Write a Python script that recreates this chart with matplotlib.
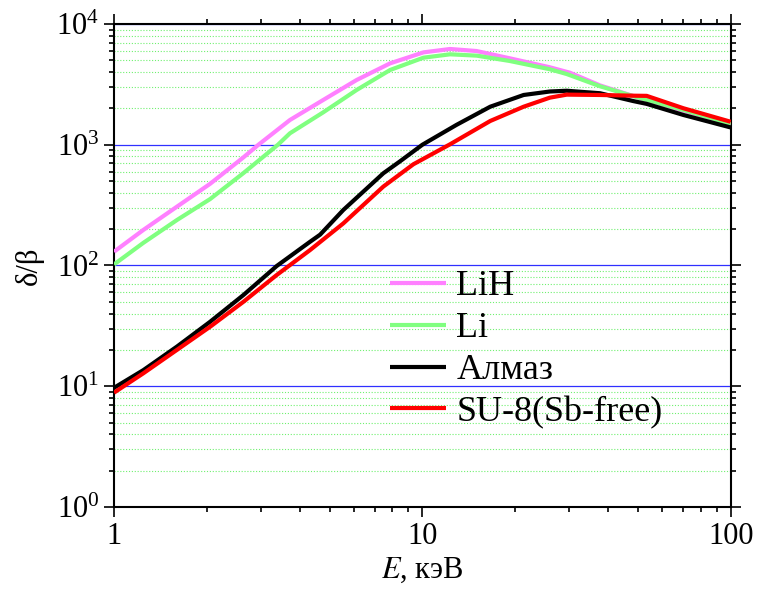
import matplotlib
matplotlib.use("Agg")
import matplotlib.pyplot as plt
from matplotlib.ticker import LogLocator, NullFormatter, FixedLocator, FixedFormatter

plt.rcParams['font.family'] = ['Liberation Serif', 'DejaVu Serif']
plt.rcParams['mathtext.fontset'] = 'stix'

# Photon energy, keV, and delta/beta for each material
e_lih = [1, 1.245, 1.6, 2.05, 2.63, 2.94, 3.72, 4.77, 6.12, 7.86, 10.08, 12.3, 15.0, 19.2, 25.9, 30.1, 37.7, 47.2, 68.5, 100]
db_lih = [130, 197, 307, 475, 787, 1000, 1603, 2349, 3437, 4722, 5820, 6210, 5970, 5200, 4380, 3950, 3100, 2580, 1940, 1480]

e_li = [1, 1.245, 1.6, 2.05, 2.63, 3.40, 3.72, 4.77, 6.12, 7.86, 10.08, 12.3, 15.0, 19.2, 25.9, 29.4, 37.7, 48.3, 70.3, 100]
db_li = [102, 154, 238, 355, 583, 1000, 1244, 1855, 2840, 4160, 5260, 5610, 5470, 4940, 4220, 3850, 3050, 2525, 1940, 1486]

e_diamond = [1, 1.245, 1.6, 2.05, 2.63, 3.37, 4.32, 4.66, 5.54, 7.47, 8.47, 10.0, 12.9, 16.6, 21.3, 25.9, 29.4, 37.7, 48.3, 53.4, 70.3, 100]
db_diamond = [9.7, 13.6, 21.3, 34.2, 57, 99, 157, 180, 288, 580, 730, 1000, 1460, 2065, 2583, 2760, 2800, 2670, 2300, 2180, 1763, 1390]

e_su8 = [1, 1.245, 1.6, 2.05, 2.63, 3.37, 4.32, 5.54, 7.47, 9.35, 12.3, 16.6, 21.3, 25.9, 29.4, 37.7, 48.3, 53.4, 70.3, 100]
db_su8 = [8.85, 12.8, 20.0, 31.1, 50.1, 83.4, 134, 223, 450, 689, 1009, 1573, 2065, 2454, 2600, 2583, 2548, 2540, 2004, 1550]

labels = ["LiH", "Li", "Алмаз", "SU-8(Sb-free)"]
colors = ["#ff80ff", "#80ff80", "#000000", "#ff0000"]

fig = plt.figure(figsize=(7.58, 5.94), dpi=100)
ax = fig.add_axes([0.1504, 0.1465, 0.8136, 0.8131])

series = [(e_lih, db_lih), (e_li, db_li), (e_diamond, db_diamond), (e_su8, db_su8)]
for (e, d), lab, c in zip(series, labels, colors):
    ax.plot(e, d, color=c, lw=3.0, label=lab, solid_joinstyle='round',
            solid_capstyle='butt', zorder=3)

ax.set_xscale('log')
ax.set_yscale('log')
ax.set_xlim(1, 100)
ax.set_ylim(1, 1e4)

ax.yaxis.set_major_locator(LogLocator(base=10, numticks=10))
ax.yaxis.set_minor_locator(LogLocator(base=10, subs=range(2, 10), numticks=20))
ax.yaxis.set_minor_formatter(NullFormatter())
ax.xaxis.set_major_locator(FixedLocator([1, 10, 100]))
ax.xaxis.set_major_formatter(FixedFormatter(["1", "10", "100"]))
ax.xaxis.set_minor_locator(LogLocator(base=10, subs=range(2, 10), numticks=20))
ax.xaxis.set_minor_formatter(NullFormatter())

# horizontal grid only
ax.grid(False)
ax.yaxis.grid(True, which='major', color='#3030ff', lw=0.9, zorder=1)
ax.yaxis.grid(True, which='minor', color='#70f070', lw=0.8, ls=(0, (1, 1.6)), zorder=1)
ax.set_axisbelow(True)

for s in ax.spines.values():
    s.set_linewidth(1.5)
ax.tick_params(which='both', direction='out', top=True, right=True, width=1.2,
               labelsize=22, color='black')
ax.tick_params(which='major', length=7)
ax.tick_params(which='minor', length=3.5)

ax.set_ylabel("δ/β", fontsize=22, labelpad=9)
ax.set_xlabel("$E$, кэВ", fontsize=22, labelpad=4)

leg = ax.legend(loc='upper left', bbox_to_anchor=(0.406, 0.543), frameon=False,
                fontsize=26, handlelength=1.55, handletextpad=0.3,
                labelspacing=0.24, borderpad=0.2)

fig.savefig("out.png", dpi=100)
